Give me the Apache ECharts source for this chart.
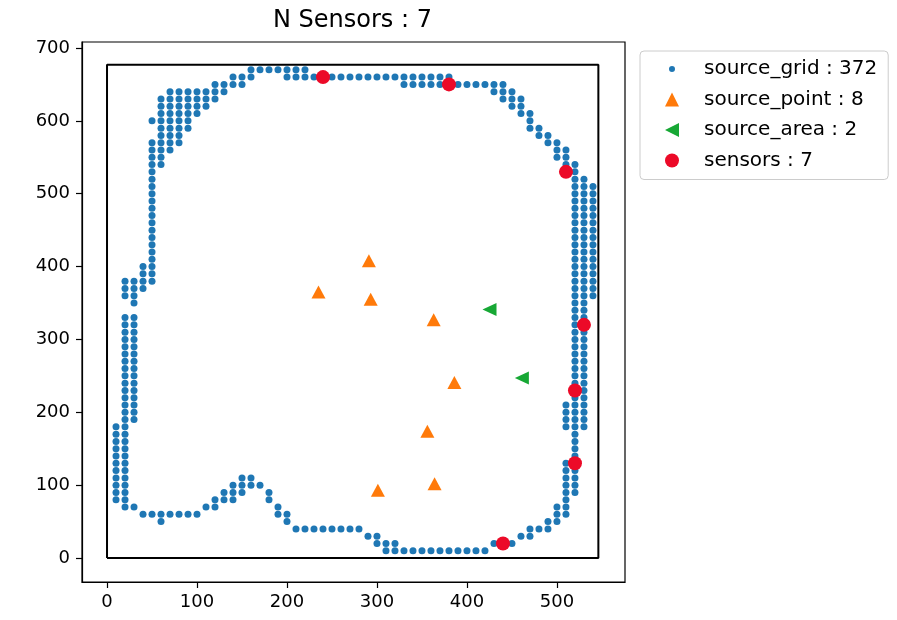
<!DOCTYPE html>
<html>
<head>
<meta charset="utf-8">
<script src="https://cdn.jsdelivr.net/npm/echarts@6/dist/echarts.min.js"></script>
<style>
  html, body { margin: 0; padding: 0; background: #ffffff; }
  #chart { width: 897px; height: 620px; }
</style>
</head>
<body>
<div id="chart"></div>
<script>
// Candidate source grid: one entry per x column, with the y values occupied in that column
const gridColumnX = [10, 20, 30, 40, 50, 60, 70, 80, 90, 100, 110, 120, 130, 140, 150, 160, 170, 180, 190, 200,
  210, 220, 230, 240, 250, 260, 270, 280, 290, 300, 310, 320, 330, 340, 350, 360, 370, 380, 390, 400,
  410, 420, 430, 440, 450, 460, 470, 480, 490, 500, 510, 520, 530, 540];
const gridColumnY = [
  [80, 90, 100, 110, 120, 130, 140, 150, 160, 170, 180],
  [70, 80, 90, 100, 110, 120, 130, 140, 150, 160, 170, 180, 190, 200, 210, 220, 230, 240, 250, 260, 270, 280, 290, 300, 310, 320, 330, 360, 370, 380],
  [70, 190, 200, 210, 220, 230, 240, 250, 260, 270, 280, 290, 300, 310, 320, 330, 350, 360, 370, 380],
  [60, 370, 380, 390, 400],
  [60, 380, 390, 400, 410, 420, 430, 440, 450, 460, 470, 480, 490, 500, 510, 520, 530, 540, 550, 560, 570, 600],
  [50, 60, 540, 550, 560, 570, 580, 590, 600, 610, 620, 630],
  [60, 560, 570, 580, 590, 600, 610, 620, 630, 640],
  [60, 570, 580, 590, 600, 610, 620, 630, 640],
  [60, 590, 600, 610, 620, 630, 640],
  [60, 610, 620, 630, 640],
  [70, 620, 630, 640],
  [70, 80, 630, 640, 650],
  [80, 90, 640, 650],
  [80, 90, 100, 650, 660],
  [90, 100, 110, 650, 660],
  [100, 110, 660, 670],
  [100, 670],
  [80, 90, 670],
  [60, 70, 670],
  [50, 60, 660, 670],
  [40, 660, 670],
  [40, 660, 670],
  [40, 660],
  [40, 660],
  [40, 660],
  [40, 660],
  [40, 660],
  [40, 660],
  [30, 660],
  [20, 30, 660],
  [10, 20, 660],
  [10, 20, 660],
  [10, 650, 660],
  [10, 650, 660],
  [10, 650, 660],
  [10, 650, 660],
  [10, 650, 660],
  [10, 650, 660],
  [10, 650],
  [10, 650],
  [10, 650],
  [10, 650],
  [20, 640, 650],
  [20, 630, 640, 650],
  [20, 620, 630, 640],
  [30, 610, 620, 630],
  [30, 40, 590, 600, 610],
  [40, 580, 590],
  [40, 50, 570, 580],
  [50, 60, 70, 550, 560, 570],
  [60, 70, 80, 90, 100, 110, 120, 130, 180, 190, 200, 210, 530, 540, 550, 560],
  [90, 100, 110, 120, 130, 140, 150, 160, 170, 180, 190, 200, 210, 220, 230, 240, 250, 260, 270, 280, 290, 300, 310,
   320, 330, 340, 350, 360, 370, 380, 390, 400, 410, 420, 430, 440, 450, 460, 470, 480, 490, 500, 510, 520, 530, 540],
  [180, 190, 200, 210, 220, 230, 240, 250, 260, 270, 280, 290, 300, 310, 320, 330, 340, 350, 360, 370, 380, 390, 400,
   410, 420, 430, 440, 450, 460, 470, 480, 490, 500, 510, 520],
  [360, 370, 380, 390, 400, 410, 420, 430, 440, 450, 460, 470, 480, 490, 500, 510]
];

// Point sources
const sourcePointX = [235, 291, 293, 363, 386, 356, 301, 364];
const sourcePointY = [365, 408, 355, 327, 241, 174, 93, 102];

// Area sources
const sourceAreaX = [425, 461];
const sourceAreaY = [341, 247];

// Placed sensors
const sensorX = [240, 380, 510, 530, 520, 520, 440];
const sensorY = [660, 650, 530, 320, 230, 130, 20];

// Site boundary (closed outline)
const boundaryX = [0, 546, 546, 0, 0];
const boundaryY = [0, 0, 677, 677, 0];

// Axis ticks and legend texts
const xTicks = [0, 100, 200, 300, 400, 500];
const yTicks = [0, 100, 200, 300, 400, 500, 600, 700];
const seriesLabels = ['source_grid : 372', 'source_point : 8', 'source_area : 2', 'sensors : 7'];
const chartTitle = 'N Sensors : 7';

const zip = (xs, ys) => xs.map((x, i) => [x, ys[i]]);
const gridPoints = [];
gridColumnX.forEach((x, i) => gridColumnY[i].forEach(y => gridPoints.push([x, y])));

const FONT = 'DejaVu Sans';
const LEFT_TRIANGLE = 'path://M0,5L10,0L10,10Z';
const chart = echarts.init(document.getElementById('chart'), null, { renderer: 'canvas' });

const axisCommon = {
  type: 'value',
  axisLine: { show: true, onZero: false, lineStyle: { color: '#000', width: 1.2 } },
  splitLine: { show: false }
};

chart.setOption({
  animation: false,
  backgroundColor: '#ffffff',
  title: {
    text: chartTitle,
    left: 273,
    top: 9,
    padding: 0,
    textStyle: { fontFamily: FONT, fontSize: 24, fontWeight: 'normal', color: '#000' }
  },
  grid: {
    left: 82, top: 42, width: 543, height: 540,
    show: true, borderColor: '#000', borderWidth: 1.2, backgroundColor: 'transparent'
  },
  xAxis: Object.assign({}, axisCommon, {
    min: -27.8, max: 575.6,
    axisTick: { show: true, inside: false, length: 6, customValues: xTicks, lineStyle: { color: '#000', width: 1.2 } },
    axisLabel: { customValues: xTicks, margin: 11, color: '#000', fontFamily: FONT, fontSize: 18 }
  }),
  yAxis: Object.assign({}, axisCommon, {
    min: -32.9, max: 708.2,
    axisTick: { show: true, inside: false, length: 6, customValues: yTicks, lineStyle: { color: '#000', width: 1.2 } },
    axisLabel: { customValues: yTicks, margin: 12, color: '#000', fontFamily: FONT, fontSize: 18 }
  }),
  legend: {
    orient: 'vertical',
    left: 640, top: 51,
    padding: [7, 11, 8, 21],
    itemWidth: 14, itemHeight: 14, itemGap: 8.5,
    backgroundColor: '#ffffff', borderColor: '#cccccc', borderWidth: 1, borderRadius: 4,
    textStyle: { fontFamily: FONT, fontSize: 20, color: '#000', lineHeight: 22, padding: [0, 0, 0, 20] },
    data: [
      { name: seriesLabels[0], itemStyle: { borderColor: '#ffffff', borderWidth: 8 } },
      { name: seriesLabels[1] },
      { name: seriesLabels[2], icon: LEFT_TRIANGLE },
      { name: seriesLabels[3] }
    ]
  },
  series: [
    {
      type: 'line', name: 'boundary', data: zip(boundaryX, boundaryY),
      symbol: 'none', silent: true, z: 1,
      lineStyle: { color: '#000', width: 2 }
    },
    {
      type: 'scatter', name: seriesLabels[0], data: gridPoints,
      symbol: 'circle', symbolSize: 7, z: 2,
      itemStyle: { color: '#1f77b4', opacity: 1 }
    },
    {
      type: 'scatter', name: seriesLabels[1], data: zip(sourcePointX, sourcePointY),
      symbol: 'triangle', symbolSize: [14, 13], z: 3,
      itemStyle: { color: '#ff7a0a', opacity: 1 }
    },
    {
      type: 'scatter', name: seriesLabels[2], data: zip(sourceAreaX, sourceAreaY),
      symbol: 'triangle', symbolRotate: 90, symbolSize: [13, 14], z: 4,
      itemStyle: { color: '#17a835', opacity: 1 }
    },
    {
      type: 'scatter', name: seriesLabels[3], data: zip(sensorX, sensorY),
      symbol: 'circle', symbolSize: 14, z: 5,
      itemStyle: { color: '#ec0a28', opacity: 1 }
    }
  ]
});
</script>
</body>
</html>
